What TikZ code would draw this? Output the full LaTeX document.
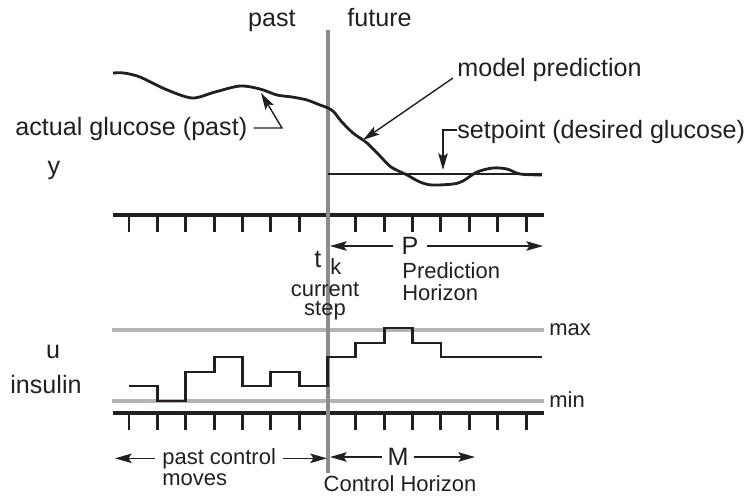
\documentclass[tikz,border=0pt]{standalone}
\usepackage{fontspec}
\setmainfont{Liberation Sans}
\usetikzlibrary{calc,positioning,arrows.meta}
\definecolor{ink}{HTML}{231F20}
\definecolor{nowgray}{HTML}{8C8C8C}
\definecolor{limgray}{HTML}{B4B4B4}
\tikzset{
biglbl/.style={
  font=\fontsize{14.3}{17}\selectfont,
  text=ink,
  inner sep=0pt
  },
smalllbl/.style={
  font=\fontsize{12.5}{15}\selectfont,
  text=ink,
  inner sep=0pt
  },
timeaxis/.style={line width=2.2pt,draw=ink},
tickmark/.style={line width=1.7pt,draw=ink},
limitline/.style={line width=1.8pt,draw=limgray},
nowline/.style={line width=2.4pt,draw=nowgray},
signal/.style={line width=1.7pt,draw=ink,line join=miter},
callout/.style={line width=0.8pt,draw=ink,->},
span/.style={line width=0.8pt,draw=ink,->}
}

\begin{document}
\begin{tikzpicture}[x=0.02cm,y=-0.02cm,>={Stealth[length=9.5pt,width=5.4pt,inset=1.8pt]}]
            \useasboundingbox (0,0) rectangle (752,498);
            % sample axes, one tick per step
            \foreach \ya in {215,413} {
                \draw[timeaxis] (113,\ya) -- (544,\ya);
                \foreach \i in {0,...,14}
                    \draw[tickmark] (129+28.36*\i,\ya) -- ++(0,16.5);
            }
            % insulin bounds
            \node[smalllbl,anchor=base west] (umax) at (549,335) {max};
            \node[smalllbl,anchor=base west] (umin) at (549,407) {min};
            \draw[limitline] (112,330) -- (544,330);
            \draw[limitline] (112,401) -- (544,401);
            % current step
            \coordinate (nowtop) at (328,30);
            \coordinate (nowbot) at (328,473);
            \draw[nowline] (nowtop) -- (nowbot);
            % insulin moves
            \draw[signal] (129,386) -| (157.4,401) -| (185.7,372) -| (214.1,357)
                -| (242.4,386) -| (270.8,372) -| (299.2,386) -| (327.5,357)
                -| (355.9,343) -| (384.2,328) -| (412.6,343) -| (441,357) -- (542,357);
            % glucose, past and predicted
            \draw[signal,line width=1.6pt,line join=round] plot[smooth,tension=0.5] coordinates {
                (113,73) (124,73) (140,77) (165,89) (192,98) (215,92) (240,86)
                (260,89) (277,95) (292,97) (307,100) (320,105) (328,108) (334,112)
                (341,121) (353,133) (367,143) (380,156) (391,167) (407,175)
                (420,182) (432,185) (453,184) (463,181) (477,172) (493,168)
                (507,169) (520,174) (542,175)};
            \draw[ink,line width=1.5pt] (328,174) -- (542,174);

            \node[biglbl,anchor=base east] (past) at (296,26) {past};
            \node[biglbl,anchor=base west] (future) at (347,26) {future};
            \node[biglbl,anchor=base west] (actual) at (15,135) {actual glucose (past)};
            \node[biglbl,anchor=base] (yvar) at (54,174) {y};
            \node[biglbl,anchor=base] (uvar) at (53,358) {u};
            \node[biglbl,anchor=base west] (insulin) at (10,393) {insulin};
            \node[biglbl,anchor=base west] (model) at (457,76) {model prediction};
            \node[biglbl,anchor=base west] (setpt) at (457,138) {setpoint (desired glucose)};

            \coordinate (modeltip) at (363,140);
            \coordinate (setpttip) at (443,170);
            \coordinate (actualknee) at (282,128);
            \coordinate (actualtip) at (261,93);
            \draw[callout] ([shift={(-4,2)}]model.base west) -- (modeltip);
            \draw[callout] ([shift={(0,-8)}]setpt.base west) -| (setpttip);
            \draw[callout] ([shift={(6,-7)}]actual.base east) -- (actualknee) -- (actualtip);

            % prediction horizon
            \node[biglbl,inner xsep=4.9pt] (phor) at (410,246) {P};
            \coordinate (pleft) at (330,246);
            \coordinate (pright) at (543,246);
            \draw[span] (phor) -- (pleft);
            \draw[span] (phor) -- (pright);
            \node[smalllbl,anchor=base west] (predlbl) at (402,278) {Prediction};
            \node[smalllbl,anchor=base west] (horlbl) at ($(predlbl.base west)+(0,22)$) {Horizon};
            \node[biglbl,anchor=base west] (tnow) at (314,267) {t};
            \node[smalllbl,anchor=base west] (know) at (330,274) {k};
            \node[smalllbl,anchor=base] (curlbl) at (325,296) {current};
            \node[smalllbl,anchor=base] (steplbl) at ($(curlbl.base)+(0,19)$) {step};

            % control horizon
            \node[smalllbl,anchor=base west,inner xsep=4pt] (pastmv) at (155,464) {past control};
            \node[smalllbl,anchor=base west] (moves) at (162,485) {moves};
            \coordinate (pastend) at (115,457);
            \coordinate (nowmv) at (327,457);
            \draw[span] (pastmv.west) -- (pastmv.west -| pastend);
            \draw[span] (pastmv.east) -- (pastmv.east -| nowmv);
            \node[biglbl,inner xsep=3.2pt] (mhor) at (398,457) {M};
            \coordinate (mleft) at (330,457);
            \coordinate (mright) at (475,457);
            \draw[span] (mhor) -- (mleft);
            \draw[span] (mhor) -- (mright);
            \node[smalllbl,anchor=base] (ctrlhor) at (400,491) {Control Horizon};
        \end{tikzpicture}
\end{document}
